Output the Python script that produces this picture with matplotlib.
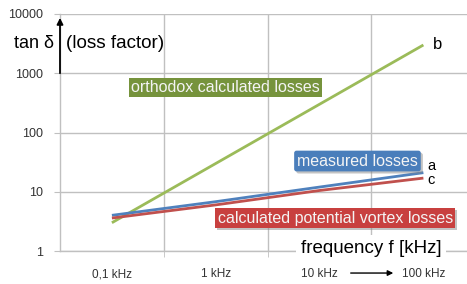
import matplotlib
matplotlib.use("Agg")
import matplotlib.pyplot as plt
import matplotlib.ticker as ticker
import matplotlib.patheffects as pe

plt.rcParams["font.family"] = ["Liberation Sans", "DejaVu Sans"]

# category axis
freq_labels = ["0,1 kHz", "1 kHz", "10 kHz", "100 kHz"]
# tan delta values
orthodox = [3, 30, 300, 3000]   # b
measured = [4, 6.8, 12, 21]     # a
vortex = [3.6, 6.0, 10.5, 17]   # c

GREEN = "#9BBB59"
BLUE = "#4F81BD"
RED = "#C0504D"
GRID = "#C0C0C0"

fig = plt.figure(figsize=(4.67, 2.84), dpi=100)
ax = fig.add_axes([60 / 467, 1 - 251 / 284, 1 - 60 / 467, 237 / 284])

x = list(range(len(freq_labels)))
ax.plot(x, orthodox, color=GREEN, lw=2, solid_capstyle="butt", zorder=3)
ax.plot(x, measured, color=BLUE, lw=2, solid_capstyle="butt", zorder=4)
ax.plot(x, vortex, color=RED, lw=2, solid_capstyle="butt", zorder=5)

ax.set_yscale("log")
ax.set_ylim(1, 10000)
ax.set_xlim(-0.5, 3.42)

ax.yaxis.set_major_locator(ticker.FixedLocator([1, 10, 100, 1000, 10000]))
ax.yaxis.set_major_formatter(ticker.FixedFormatter(["1", "10", "100", "1000", "10000"]))
ax.yaxis.set_minor_locator(ticker.NullLocator())
ax.set_xticks(x)
ax.set_xticklabels(freq_labels)
ax.set_xticks([0.5, 1.5, 2.5], minor=True)

ax.tick_params(axis="y", which="major", length=4, color=GRID, pad=8,
               labelsize=9, labelcolor="#333333")
ax.tick_params(axis="x", which="major", length=0, pad=12.5,
               labelsize=8.5, labelcolor="#333333")
ax.tick_params(axis="x", which="minor", length=4, color=GRID)

ax.grid(True, which="major", axis="y", color=GRID, lw=1)
ax.grid(True, which="minor", axis="x", color=GRID, lw=1)
ax.set_axisbelow(True)

for s in ["top", "right"]:
    ax.spines[s].set_visible(False)
for s in ["left", "bottom"]:
    ax.spines[s].set_color(GRID)
    ax.spines[s].set_linewidth(1)

# curve letters
ax.text(3.09, orthodox[-1], "b", fontsize=12, va="center", ha="left")
ax.text(3.04, 27, "a", fontsize=10.5, va="center", ha="left")
ax.text(3.04, 15.8, "c", fontsize=10.5, va="center", ha="left")

# series labels in coloured boxes
shadow = [pe.withSimplePatchShadow(offset=(1.5, -1.5), shadow_rgbFace="#888888", alpha=0.5)]
ax.text(1.096, 580, "orthodox calculated losses", fontsize=11.5, color="#F4F4F4",
        ha="center", va="center", zorder=6,
        bbox=dict(boxstyle="square,pad=0.12", fc="#76933C", ec="none"))
t_meas = ax.text(2.365, 33, "measured losses", fontsize=11.5, color="#F4F4F4",
                 ha="center", va="center", zorder=6,
                 bbox=dict(boxstyle="round,pad=0.18,rounding_size=0.15", fc="#4A7EBB", ec="none"))
t_vort = ax.text(2.15, 3.6, "calculated potential vortex losses", fontsize=11.5, color="#F4F4F4",
                 ha="center", va="center", zorder=6,
                 bbox=dict(boxstyle="square,pad=0.15", fc="#C8403F", ec="none"))
t_meas.get_bbox_patch().set_path_effects(shadow)
t_vort.get_bbox_patch().set_path_effects(shadow)

# axis titles
ax.text(2.5, 1.12, "frequency f [kHz]", fontsize=13.5, ha="center", va="center",
        zorder=6, bbox=dict(boxstyle="square,pad=0.25", fc="white", ec="none"))
fig.text(14 / 467, 1 - 44 / 284, "tan \u03b4", fontsize=13, va="center", ha="left")
fig.text(66 / 467, 1 - 44 / 284, "(loss factor)", fontsize=13.6, va="center", ha="left")

ax.annotate("", xy=(-0.5, 8600), xytext=(-0.5, 1000), annotation_clip=False,
            arrowprops=dict(arrowstyle="-|>", color="black", lw=1.3,
                            mutation_scale=9, shrinkA=0, shrinkB=0))
ax.annotate("", xy=(2.71, -0.093), xytext=(2.30, -0.093),
            xycoords=ax.get_xaxis_transform(), textcoords=ax.get_xaxis_transform(),
            annotation_clip=False,
            arrowprops=dict(arrowstyle="-|>", color="black", lw=1,
                            mutation_scale=8, shrinkA=0, shrinkB=0))

fig.savefig("out.png", dpi=100, facecolor="white")
